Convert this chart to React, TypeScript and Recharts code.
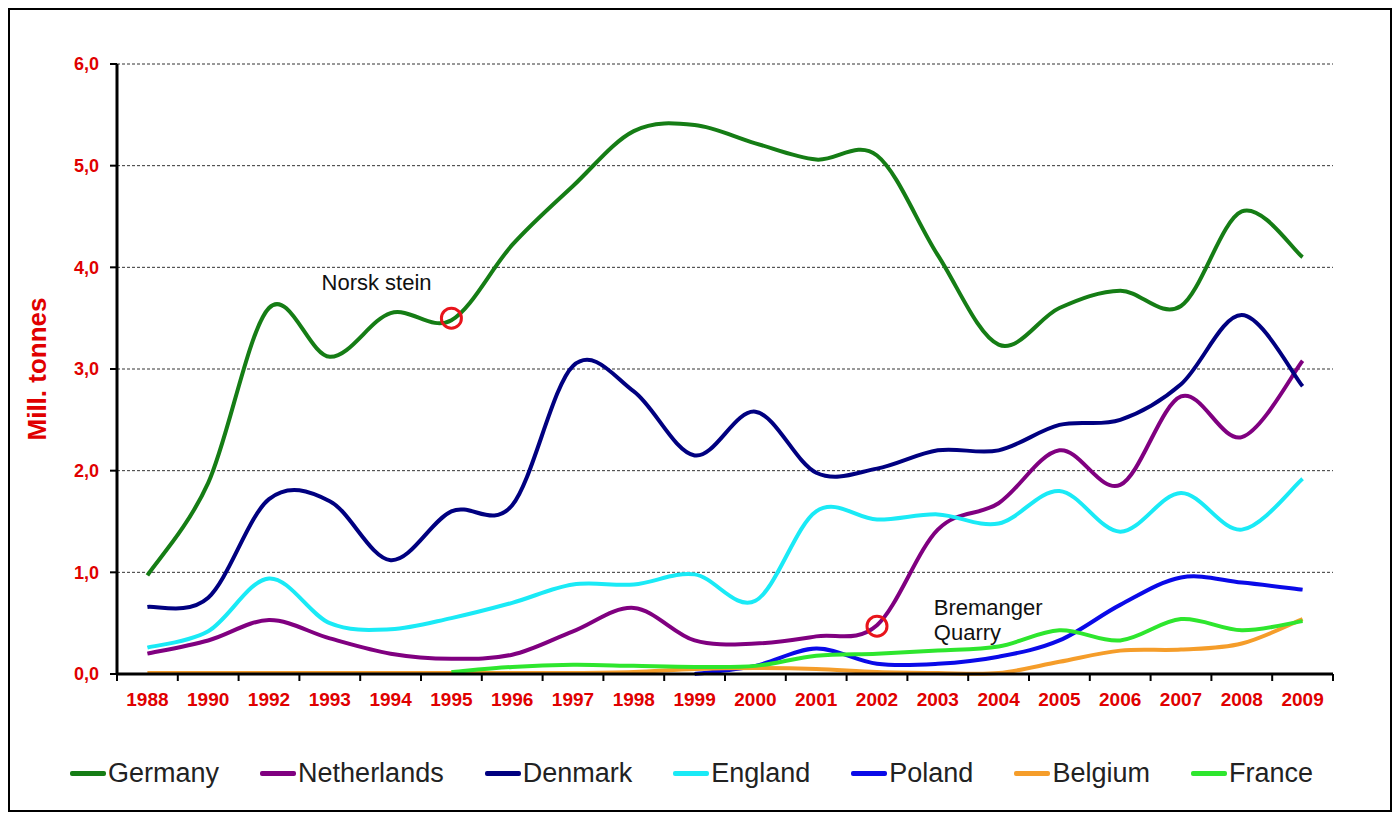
import React from 'react';
import { LineChart, Line, XAxis, YAxis, CartesianGrid, Legend, ReferenceDot } from 'recharts';

const years = ['1988', '1990', '1992', '1993', '1994', '1995', '1996', '1997', '1998', '1999', '2000', '2001', '2002', '2003', '2004', '2005', '2006', '2007', '2008', '2009'];

const germany = [0.97, 1.88, 3.6, 3.12, 3.55, 3.48, 4.22, 4.8, 5.34, 5.4, 5.22, 5.06, 5.1, 4.12, 3.24, 3.6, 3.77, 3.62, 4.55, 4.1];
const netherlands = [0.2, 0.33, 0.53, 0.35, 0.2, 0.15, 0.19, 0.42, 0.65, 0.33, 0.3, 0.37, 0.48, 1.42, 1.68, 2.2, 1.86, 2.73, 2.33, 3.08];
const denmark = [0.66, 0.75, 1.72, 1.7, 1.12, 1.6, 1.66, 3.03, 2.78, 2.15, 2.58, 1.98, 2.02, 2.2, 2.2, 2.45, 2.5, 2.85, 3.53, 2.83];
const england = [0.26, 0.42, 0.94, 0.5, 0.44, 0.55, 0.7, 0.88, 0.88, 0.98, 0.72, 1.6, 1.52, 1.57, 1.48, 1.8, 1.4, 1.78, 1.42, 1.92];
const poland = [null, null, null, null, null, null, null, null, null, 0.0, 0.08, 0.25, 0.1, 0.1, 0.17, 0.33, 0.68, 0.95, 0.9, 0.83];
const belgium = [0.01, 0.01, 0.01, 0.01, 0.01, 0.01, 0.01, 0.01, 0.02, 0.05, 0.06, 0.05, 0.02, 0.01, 0.01, 0.12, 0.23, 0.24, 0.3, 0.54];
const france = [null, null, null, null, null, 0.02, 0.07, 0.09, 0.08, 0.07, 0.08, 0.18, 0.2, 0.23, 0.27, 0.43, 0.33, 0.54, 0.43, 0.52];

const yTicks = [0, 1, 2, 3, 4, 5, 6];

const FONT = 'Arial, "Liberation Sans", Helvetica, sans-serif';
const RED = '#e00000';

const CHART_W = 1380;
const CHART_H = 800;
const MARGIN = { top: 54, right: 57, bottom: 21, left: 0 };
const Y_AXIS_W = 107;
const HALF_BAND = (CHART_W - MARGIN.left - MARGIN.right - Y_AXIS_W) / years.length / 2;

const series = [
  { key: 'Germany', values: germany, color: '#157d15' },
  { key: 'Netherlands', values: netherlands, color: '#800080' },
  { key: 'Denmark', values: denmark, color: '#000080' },
  { key: 'England', values: england, color: '#1aeaf6' },
  { key: 'Poland', values: poland, color: '#0a0ae8' },
  { key: 'Belgium', values: belgium, color: '#f59d2a' },
  { key: 'France', values: france, color: '#2ee62e' },
];

const data = years.map((year, i) => {
  const row: Record<string, string | number | null> = { year };
  series.forEach((s) => {
    row[s.key] = s.values[i];
  });
  return row;
});

// Excel-style smoothed line (Catmull-Rom through every point)
const excelSmooth = (context: any) => {
  let pts: number[][] = [];
  return {
    areaStart() {},
    areaEnd() {},
    lineStart() {
      pts = [];
    },
    point(x: number, y: number) {
      pts.push([+x, +y]);
    },
    lineEnd() {
      const n = pts.length;
      if (!n) return;
      context.moveTo(pts[0][0], pts[0][1]);
      for (let i = 0; i < n - 1; i++) {
        const p0 = pts[Math.max(i - 1, 0)];
        const p1 = pts[i];
        const p2 = pts[i + 1];
        const p3 = pts[Math.min(i + 2, n - 1)];
        context.bezierCurveTo(
          p1[0] + (p2[0] - p0[0]) / 6,
          p1[1] + (p2[1] - p0[1]) / 6,
          p2[0] - (p3[0] - p1[0]) / 6,
          p2[1] - (p3[1] - p1[1]) / 6,
          p2[0],
          p2[1],
        );
      }
    },
  };
};

// labels sit in the middle of each band, tick marks on the band edges
const YearTick = ({ x, y, payload, index }: any) => (
  <g>
    <line x1={x - HALF_BAND} x2={x - HALF_BAND} y1={y - 8} y2={y - 1} stroke="#000" strokeWidth={2} />
    {index === years.length - 1 && (
      <line x1={x + HALF_BAND} x2={x + HALF_BAND} y1={y - 8} y2={y - 1} stroke="#000" strokeWidth={2} />
    )}
    <text x={x} y={y + 17} textAnchor="middle" dominantBaseline="central" fill={RED} fontSize={19} fontWeight="bold" fontFamily={FONT}>
      {payload.value}
    </text>
  </g>
);

const YLabel = ({ viewBox }: any) => {
  const cx = viewBox.x + 27;
  const cy = viewBox.y + viewBox.height / 2;
  return (
    <text x={cx} y={cy} transform={`rotate(-90 ${cx} ${cy})`} textAnchor="middle" dominantBaseline="central" fill={RED} fontSize={26} fontWeight="bold" fontFamily={FONT}>
      Mill. tonnes
    </text>
  );
};

const renderLegend = (props: any) => {
  const order = series.map((s) => s.key);
  const items = [...(props.payload || [])].sort((a: any, b: any) => order.indexOf(a.value) - order.indexOf(b.value));
  return (
    <div style={{ display: 'flex', justifyContent: 'center', alignItems: 'center', height: 32, fontFamily: FONT, fontSize: 27, color: '#222' }}>
      {items.map((entry: any, i: number) => (
        <div key={entry.value} style={{ display: 'flex', alignItems: 'center', marginLeft: i === 0 ? 0 : 41 }}>
          <span style={{ display: 'inline-block', width: 36, height: 5, background: entry.color, marginRight: 2, borderRadius: 2 }} />
          <span>{entry.value}</span>
        </div>
      ))}
    </div>
  );
};

const noteText = (text: string, dx: number, anchor: string) => (p: any) => (
  <text x={p.cx + dx} y={p.cy} textAnchor={anchor} dominantBaseline="central" fill="#111" fontSize={22} fontFamily={FONT}>
    {text}
  </text>
);

export default function App() {
  return (
    <div style={{ width: CHART_W, height: CHART_H, border: '2px solid #000', background: '#fff' }}>
      <LineChart width={CHART_W} height={CHART_H} data={data} margin={MARGIN}>
        <CartesianGrid vertical={false} stroke="#333" strokeDasharray="3 2" strokeWidth={1} />
        <XAxis
          dataKey="year"
          scale="band"
          interval={0}
          height={83}
          tickLine={false}
          tick={<YearTick />}
          axisLine={{ stroke: '#000', strokeWidth: 3 }}
        />
        <YAxis
          width={Y_AXIS_W}
          domain={[0, 6]}
          ticks={yTicks}
          interval={0}
          tickSize={7}
          tickMargin={11}
          tickFormatter={(v: number) => v.toFixed(1).replace('.', ',')}
          tick={{ fill: RED, fontSize: 18, fontWeight: 'bold', fontFamily: FONT }}
          tickLine={{ stroke: '#000', strokeWidth: 2 }}
          axisLine={{ stroke: '#000', strokeWidth: 3 }}
          label={<YLabel />}
        />
        <Legend verticalAlign="bottom" content={renderLegend} wrapperStyle={{ left: 20 }} />
        {series.map((s) => (
          <Line
            key={s.key}
            type={excelSmooth as any}
            dataKey={s.key}
            stroke={s.color}
            strokeWidth={4}
            dot={false}
            activeDot={false}
            isAnimationActive={false}
          />
        ))}
        <ReferenceDot x="1995" y={3.5} r={10} fill="none" stroke="#e8141b" strokeWidth={3} />
        <ReferenceDot x="2002" y={0.47} r={10} fill="none" stroke="#e8141b" strokeWidth={3} />
        <ReferenceDot x="1994" y={3.85} shape={noteText('Norsk stein', -14, 'middle')} />
        <ReferenceDot x="2003" y={0.65} shape={noteText('Bremanger', -4, 'start')} />
        <ReferenceDot x="2003" y={0.41} shape={noteText('Quarry', -4, 'start')} />
      </LineChart>
    </div>
  );
}
